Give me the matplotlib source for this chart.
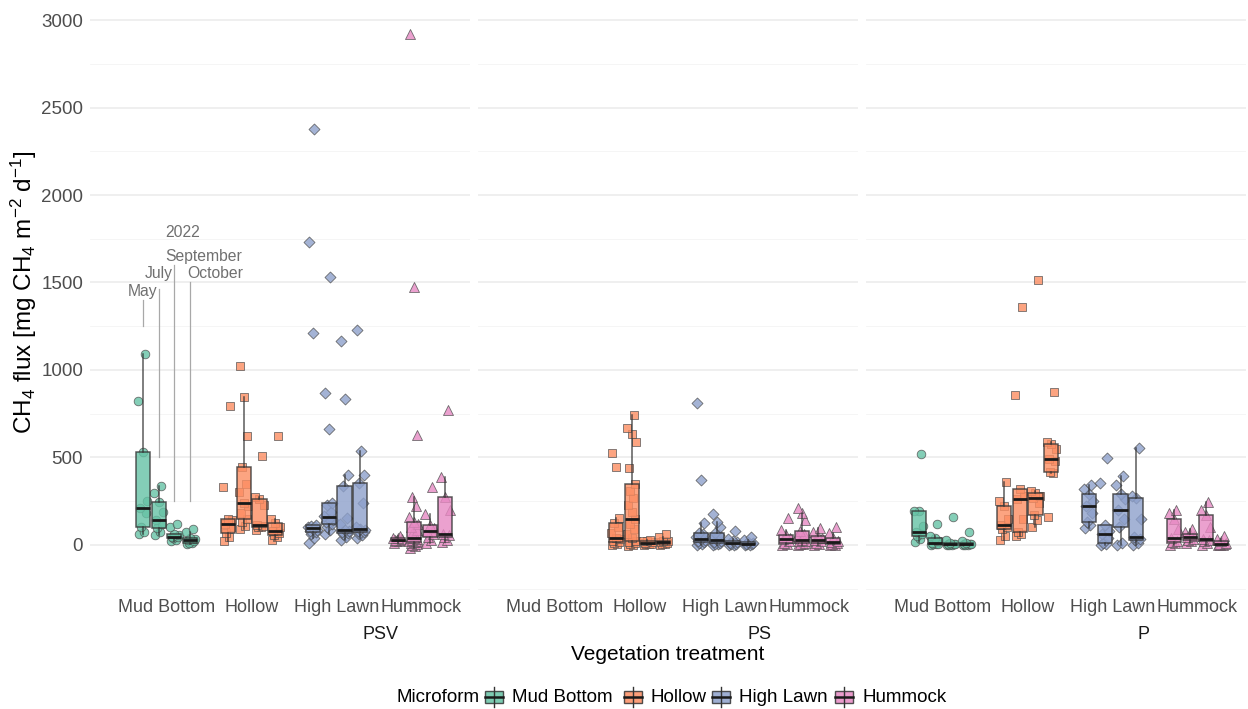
import matplotlib.pyplot as plt
from matplotlib.patches import Rectangle

plt.rcParams['font.family'] = ['Liberation Sans', 'DejaVu Sans']
plt.rcParams['mathtext.fontset'] = 'custom'
plt.rcParams['mathtext.rm'] = 'Liberation Sans'
plt.rcParams['mathtext.it'] = 'Liberation Sans:italic'

treatments = ['PSV', 'PS', 'P']
microforms = ['Mud Bottom', 'Hollow', 'High Lawn', 'Hummock']
months = ['May', 'July', 'September', 'October']
colors = ['#66C2A5', '#FC8D62', '#8DA0CB', '#E78AC3']
markers = ['o', 's', 'D', '^']
marker_sizes = [6.2, 5.6, 5.6, 7.2]

# CH4 flux (mg CH4 m-2 d-1), one list per month: May, July, September, October
psv_mud_bottom = [
    [65, 75, 100, 180, 211, 250, 530, 820, 1090],
    [55, 75, 95, 120, 143, 190, 245, 295, 335],
    [20, 30, 40, 45, 48, 55, 60, 100, 120],
    [5, 10, 12, 20, 28, 35, 40, 75, 90],
]
psv_hollow = [
    [20, 45, 69, 100, 120, 140, 150, 330, 795],
    [90, 110, 130, 149, 180, 220, 240, 300, 350, 446, 620, 846, 1025],
    [85, 100, 103, 110, 114, 230, 263, 275, 509],
    [30, 45, 57, 70, 80, 100, 126, 150, 620],
]
psv_high_lawn = [
    [11, 40, 60, 74, 80, 85, 91, 100, 105, 110, 114, 1211, 1731, 2377],
    [60, 86, 100, 120, 130, 140, 150, 165, 190, 230, 240, 663, 869, 1531],
    [30, 45, 60, 69, 75, 80, 86, 120, 154, 337, 400, 834, 1166],
    [40, 55, 65, 74, 80, 88, 91, 100, 240, 354, 400, 537, 1229],
]
psv_hummock = [
    [10, 20, 25, 28, 30, 33, 38, 40, 50],
    [-20, -5, 0, 5, 10, 14, 17, 20, 25, 30, 33, 37, 40, 55, 70, 85, 100,
     120, 131, 160, 223, 274, 629, 1475, 2920],
    [10, 30, 46, 60, 80, 95, 114, 177, 331],
    [15, 30, 46, 55, 63, 200, 274, 389, 770],
]

ps_mud_bottom = [[], [], [], []]
ps_hollow = [
    [0, 5, 10, 17, 25, 32, 40, 70, 100, 126, 154, 446, 526],
    [-5, 0, 5, 12, 18, 23, 40, 60, 90, 120, 149, 190, 230, 270, 310, 349,
     440, 589, 634, 669, 743],
    [0, 3, 5, 8, 10, 15, 20, 25, 30],
    [0, 3, 5, 10, 14, 20, 25, 45, 60],
]
ps_high_lawn = [
    [0, 5, 10, 17, 24, 29, 34, 45, 60, 69, 126, 371, 811],
    [0, 5, 8, 11, 18, 24, 29, 40, 55, 69, 103, 131, 177],
    [0, 2, 5, 8, 10, 15, 20, 35, 80],
    [0, 2, 4, 6, 8, 12, 15, 30, 46],
]
ps_hummock = [
    [0, 5, 11, 20, 34, 40, 57, 86, 154],
    [0, 3, 6, 10, 20, 25, 29, 50, 65, 80, 143, 183, 211],
    [0, 5, 11, 20, 29, 40, 51, 75, 97],
    [0, 0, 3, 10, 17, 25, 40, 70, 100],
]

p_mud_bottom = [
    [17, 35, 51, 60, 74, 110, 194, 194, 520],
    [0, 3, 6, 8, 11, 25, 40, 50, 120],
    [0, 0, 2, 3, 5, 8, 10, 30, 160],
    [0, 0, 2, 3, 5, 7, 10, 25, 74],
]
p_hollow = [
    [29, 50, 91, 100, 114, 150, 223, 250, 360],
    [50, 65, 74, 150, 263, 280, 320, 855, 1360],
    [103, 140, 171, 240, 269, 280, 297, 310, 1514],
    [160, 410, 417, 480, 491, 550, 577, 590, 874],
]
p_high_lawn = [
    [97, 114, 131, 180, 223, 250, 291, 320, 343],
    [0, 5, 11, 40, 63, 80, 114, 354, 497],
    [0, 10, 103, 150, 200, 260, 291, 343, 394],
    [0, 10, 29, 35, 46, 150, 269, 280, 554],
]
p_hummock = [
    [0, 10, 17, 25, 40, 90, 149, 183, 200],
    [10, 20, 29, 35, 46, 50, 63, 75, 91],
    [0, 10, 23, 30, 34, 100, 171, 200, 246],
    [0, 0, 2, 5, 8, 12, 20, 35, 51],
]

flux = {
    'PSV': [psv_mud_bottom, psv_hollow, psv_high_lawn, psv_hummock],
    'PS': [ps_mud_bottom, ps_hollow, ps_high_lawn, ps_hummock],
    'P': [p_mud_bottom, p_hollow, p_high_lawn, p_hummock],
}

# dodge offsets of the four months and a fixed horizontal spread for points
dodge = [-0.28125, -0.09375, 0.09375, 0.28125]
spread = [-0.045, 0.02, -0.015, 0.04, -0.03, 0.05, 0.0, -0.05, 0.03, -0.02, 0.045, 0.01]

W, H = 1248, 709
fig = plt.figure(figsize=(W / 100, H / 100), dpi=100)

panel_left = [90, 478, 866]
panel_w = 380
panel_top, panel_bot = 5, 592
strip_x = [0.765, 0.742, 0.73]

edge = '#333333'
axes = []
for k, tr in enumerate(treatments):
    ax = fig.add_axes([panel_left[k] / W, (H - panel_bot) / H,
                       panel_w / W, (panel_bot - panel_top) / H])
    axes.append(ax)
    for s in ax.spines.values():
        s.set_visible(False)
    ax.set_xlim(0.1, 4.57)
    ax.set_ylim(-269, 3086)
    ax.set_yticks(range(0, 3001, 500))
    ax.set_yticks(range(-250, 3000, 500), minor=True)
    ax.grid(which='major', axis='y', color='#EBEBEB', lw=1.1, zorder=0)
    ax.grid(which='minor', axis='y', color='#F4F4F4', lw=0.6, zorder=0)
    ax.set_axisbelow(True)
    ax.tick_params(which='both', length=0)
    ax.tick_params(axis='y', labelsize=13.5, labelcolor='#4D4D4D', pad=5)
    ax.tick_params(axis='x', labelsize=13, labelcolor='#4D4D4D', pad=5)
    if k > 0:
        ax.set_yticklabels([])
    ax.set_xticks([1, 2, 3, 4])
    ax.set_xticklabels(microforms)

    for i, mf in enumerate(microforms):
        for j, vals in enumerate(flux[tr][i]):
            if len(vals) == 0:
                continue
            x0 = i + 1 + dodge[j]
            xs = [x0 + spread[n % len(spread)] for n in range(len(vals))]
            ax.scatter(xs, vals, marker=markers[i], s=marker_sizes[i] ** 2,
                       color=colors[i], edgecolors='#505050', linewidths=0.6,
                       alpha=0.8, zorder=2)
            ax.boxplot([vals], positions=[x0], widths=0.165, patch_artist=True,
                       showfliers=False, showcaps=False, whis=1.5,
                       boxprops=dict(facecolor=colors[i], edgecolor=edge,
                                     lw=1.1, alpha=0.8),
                       whiskerprops=dict(color=edge, lw=1.1, alpha=0.8),
                       medianprops=dict(color='#1A1A1A', lw=2.0),
                       manage_ticks=False, zorder=3)

    ax.text(strip_x[k], -0.072, tr, transform=ax.transAxes, ha='center',
            va='center', fontsize=13, color='#1A1A1A')

# sampling months of 2022, marked on the first panel
ax = axes[0]
note_gray = '#A8A8A8'
ax.plot([1 + dodge[0]] * 2, [1250, 1400], color=note_gray, lw=0.9, zorder=1)
ax.plot([1 + dodge[1]] * 2, [500, 1465], color=note_gray, lw=0.9, zorder=1)
ax.plot([1 + dodge[2]] * 2, [250, 1600], color=note_gray, lw=0.9, zorder=1)
ax.plot([1 + dodge[3]] * 2, [250, 1500], color=note_gray, lw=0.9, zorder=1)
ax.text(0.72, 1450, 'May', ha='center', va='center', fontsize=11.3, color='#707070')
ax.text(0.91, 1550, 'July', ha='center', va='center', fontsize=11.3, color='#707070')
ax.text(1.44, 1650, 'September', ha='center', va='center', fontsize=11.3, color='#707070')
ax.text(1.57, 1550, 'October', ha='center', va='center', fontsize=11.3, color='#707070')
ax.text(1.19, 1785, '2022', ha='center', va='center', fontsize=11.3, color='#707070')

fig.text(668 / W, 1 - 655 / H, 'Vegetation treatment', ha='center', va='center',
         fontsize=15, color='black')
fig.text(24 / W, 1 - 292 / H,
         r'CH$_4$ flux [mg CH$_4$ m$^{-2}$ d$^{-1}$]', rotation=90,
         ha='center', va='center', fontsize=17.5, color='black')

# legend along the bottom
leg = fig.add_axes([0, 0, 1, 1], facecolor='none')
leg.set_xlim(0, W)
leg.set_ylim(H, 0)
leg.axis('off')
leg.text(397, 697, 'Microform', ha='left', va='center', fontsize=13.5)
key_x = [485, 624, 712, 835]
for kx, mf, c in zip(key_x, microforms, colors):
    leg.plot([kx + 9, kx + 9], [687, 707], color=edge, lw=1.0)
    leg.add_patch(Rectangle((kx, 691), 18, 12, facecolor=c, edgecolor=edge,
                            lw=1.0, alpha=0.85))
    leg.plot([kx, kx + 18], [697, 697], color='#1A1A1A', lw=1.8)
    leg.text(kx + 27, 697, mf, ha='left', va='center', fontsize=13.5)

fig.savefig('out.png', dpi=100)
